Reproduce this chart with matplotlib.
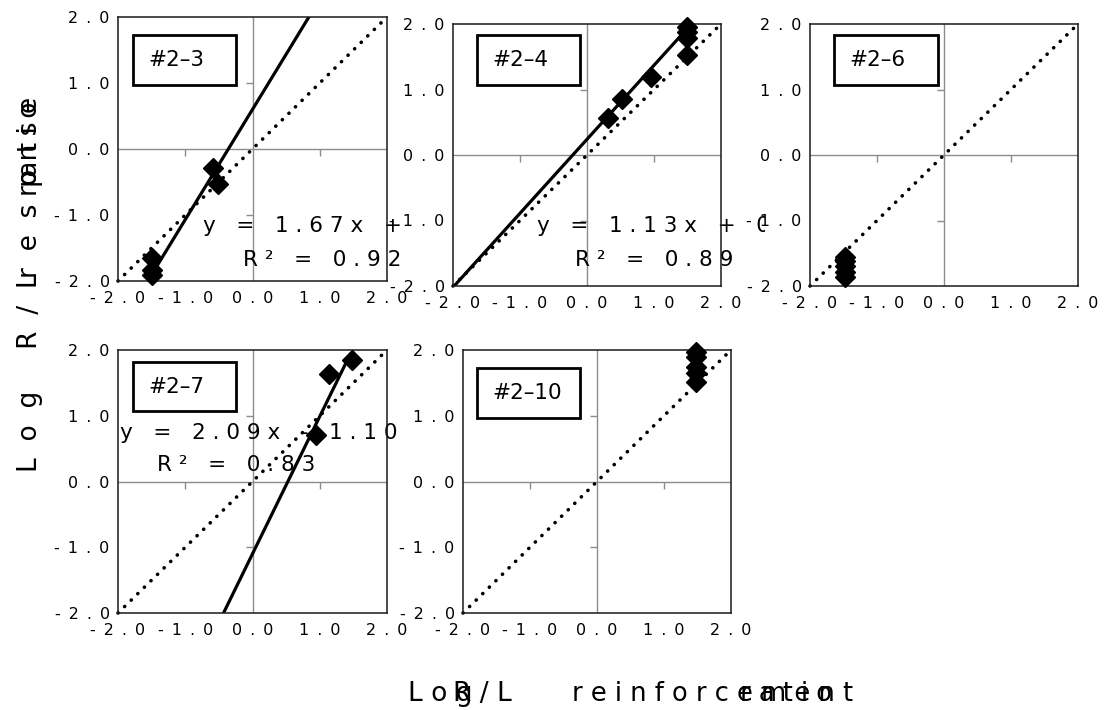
"""Log R/L response ratio vs reinforcement ratio, five subjects (#2-x)."""

import matplotlib

matplotlib.use("Agg")
import matplotlib.pyplot as plt
import numpy as np
from matplotlib.markers import TICKDOWN, TICKLEFT
from matplotlib.patches import Rectangle

FIG_W, FIG_H = 1111, 710

TICKS = [-2.0, -1.0, 0.0, 1.0, 2.0]
PANEL_NAMES = ["#2–3", "#2–4", "#2–6", "#2–7", "#2–10"]

# points (log reinforcement ratio, log response ratio)
X_23 = [-1.49, -1.49, -1.49, -0.59, -0.52]
Y_23 = [-1.65, -1.83, -1.91, -0.29, -0.53]
X_24 = [0.31, 0.52, 0.96, 1.49, 1.49, 1.49, 1.49]
Y_24 = [0.56, 0.85, 1.19, 1.53, 1.78, 1.88, 1.96]
X_26 = [-1.48, -1.48, -1.48, -1.48, -1.48]
Y_26 = [-1.56, -1.62, -1.70, -1.78, -1.86]
X_27 = [0.94, 1.14, 1.48]
Y_27 = [0.71, 1.64, 1.85]
X_210 = [1.48, 1.48, 1.48, 1.48, 1.48]
Y_210 = [1.52, 1.65, 1.74, 1.90, 1.97]

# linear trendlines: slope, intercept, R^2, x span of the drawn line
SLOPES = [1.67, 1.13, None, 2.09, None]
INTERCEPTS = [0.60, 0.24, None, -1.10, None]
R2 = [0.92, 0.89, None, 0.83, None]
FIT_SPANS = [(-1.49, 1.0), (-2.0, 1.49), None, (-0.5, 1.45), None]

XS = [X_23, X_24, X_26, X_27, X_210]
YS = [Y_23, Y_24, Y_26, Y_27, Y_210]

# pixel rectangles (left, top, right, bottom)
PANEL_PX = [
    (118, 17, 387, 281),
    (453, 24, 721, 286),
    (810, 24, 1078, 286),
    (118, 350, 387, 613),
    (463, 350, 731, 613),
]
# white chart-area backgrounds that hide text spilling from the panel on the left
AREA_PX = [None, (423, 0, 765, 330), (765, 0, 1111, 330), None, None]
# label boxes in axes fraction (x0, y0, x1, y1)
BOX_FRAC = [
    (0.056, 0.742, 0.439, 0.932),
    (0.090, 0.767, 0.474, 0.958),
    (0.090, 0.767, 0.478, 0.958),
    (0.056, 0.768, 0.439, 0.954),
    (0.052, 0.741, 0.437, 0.932),
]
EQ_POS = [(0.316, 0.208), (0.313, 0.229), None, (0.007, 0.684), None]
R2_POS = [(0.465, 0.080), (0.455, 0.099), None, (0.145, 0.563), None]

GREY = "#8c8c8c"
EN = "\u2002"


def spaced(text, gap=" "):
    return gap.join(text)


def px_rect(left, top, right, bottom):
    return [left / FIG_W, 1 - bottom / FIG_H, (right - left) / FIG_W, (bottom - top) / FIG_H]


def add_area(fig, rect):
    area = fig.add_axes(px_rect(*rect))
    area.set_xticks([])
    area.set_yticks([])
    for spine in area.spines.values():
        spine.set_visible(False)
    area.set_facecolor("white")
    return area


def draw_panel(ax, i):
    ax.set_xlim(TICKS[0], TICKS[-1])
    ax.set_ylim(TICKS[0], TICKS[-1])
    labels = [spaced(f"{t:.1f}", EN) for t in TICKS]
    ax.set_xticks(TICKS, labels)
    ax.set_yticks(TICKS, labels)
    ax.tick_params(axis="both", length=0, labelsize=11.5, colors="black")
    ax.tick_params(axis="x", pad=7)
    ax.tick_params(axis="y", pad=6)
    for spine in ax.spines.values():
        spine.set_color("#1a1a1a")
        spine.set_linewidth(1.1)

    # Excel-style axes crossing at zero, with their minor tick marks
    ax.axhline(0, color=GREY, lw=1.0, zorder=1)
    ax.axvline(0, color=GREY, lw=1.0, zorder=1)
    inner = [t for t in TICKS if t not in (0.0, TICKS[0], TICKS[-1])]
    ax.plot(inner, np.zeros(len(inner)), ls="none", marker=TICKDOWN, ms=5, mew=1.0, color=GREY, zorder=1)
    ax.plot(np.zeros(len(inner)), inner, ls="none", marker=TICKLEFT, ms=5, mew=1.0, color=GREY, zorder=1)

    # identity line
    ax.plot([TICKS[0], TICKS[-1]], [TICKS[0], TICKS[-1]], color="black", lw=2.6,
            linestyle=(0, (0.05, 2.5)), dash_capstyle="round", zorder=2, clip_on=False)

    if SLOPES[i] is not None:
        span = np.array(FIT_SPANS[i])
        ax.plot(span, SLOPES[i] * span + INTERCEPTS[i], color="black", lw=2.3, zorder=2)
        sign = "+" if INTERCEPTS[i] >= 0 else "-"
        eq = f"y = {SLOPES[i]:.2f}x {sign} {abs(INTERCEPTS[i]):.2f}"
        ax.text(*EQ_POS[i], spaced(eq), transform=ax.transAxes, fontsize=15.5,
                ha="left", va="center", clip_on=False, zorder=1.5)
        ax.text(*R2_POS[i], spaced(f"R² = {R2[i]:.2f}"), transform=ax.transAxes, fontsize=15.5,
                ha="left", va="center", clip_on=False, zorder=1.5)

    ax.plot(XS[i], YS[i], ls="none", marker="D", ms=10, color="black", zorder=4, clip_on=False)

    x0, y0, x1, y1 = BOX_FRAC[i]
    ax.add_patch(Rectangle((x0, y0), x1 - x0, y1 - y0, transform=ax.transAxes,
                           facecolor="white", edgecolor="black", lw=2.0, zorder=5))
    ax.text(x0 + 0.056, (y0 + y1) / 2, PANEL_NAMES[i], transform=ax.transAxes,
            fontsize=15.5, ha="left", va="center", zorder=6)


fig = plt.figure(figsize=(FIG_W / 100, FIG_H / 100), dpi=100)
for i, rect in enumerate(PANEL_PX):
    if AREA_PX[i] is not None:
        add_area(fig, AREA_PX[i])
    ax = fig.add_axes(px_rect(*rect))
    draw_panel(ax, i)

# axis titles, overlapping runs as in the original
fig.text(408 / FIG_W, 1 - 694 / FIG_H, spaced("Log"), fontsize=19, ha="left", va="center")
fig.text(453 / FIG_W, 1 - 694 / FIG_H, spaced("R/L"), fontsize=19, ha="left", va="center")
fig.text(572 / FIG_W, 1 - 694 / FIG_H, spaced("reinforcement"), fontsize=18.5, ha="left", va="center")
fig.text(740 / FIG_W, 1 - 694 / FIG_H, spaced("ratio"), fontsize=18.5, ha="left", va="center")

fig.text(30 / FIG_W, 1 - 472 / FIG_H, spaced("Log R/L", "  "), fontsize=19, rotation=90,
         ha="center", va="bottom")
fig.text(30 / FIG_W, 1 - 278 / FIG_H, spaced("resp", "  "), fontsize=19, rotation=90,
         ha="center", va="bottom")
fig.text(30 / FIG_W, 1 - 185 / FIG_H, spaced("onse"), fontsize=19, rotation=90,
         ha="center", va="bottom")
fig.text(30 / FIG_W, 1 - 196 / FIG_H, spaced("ratio"), fontsize=19, rotation=90,
         ha="center", va="bottom")

fig.savefig("out.png", dpi=100, facecolor="white")
